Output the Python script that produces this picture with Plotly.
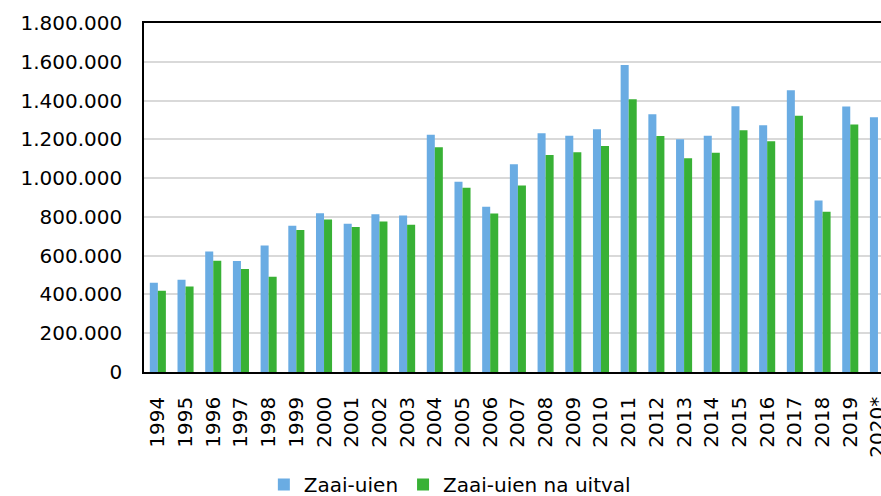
import plotly.graph_objects as go

# Jaartallen (2020 is een voorlopig cijfer)
jaren = ["1994", "1995", "1996", "1997", "1998", "1999", "2000", "2001", "2002",
         "2003", "2004", "2005", "2006", "2007", "2008", "2009", "2010", "2011",
         "2012", "2013", "2014", "2015", "2016", "2017", "2018", "2019", "2020*"]

# Aantal zaai-uien (totaal)
zaai_uien = [460000, 476000, 621000, 572000, 652000, 754000, 819000, 764000, 814000,
             807000, 1224000, 981000, 852000, 1072000, 1231000, 1219000, 1252000, 1583000,
             1329000, 1200000, 1219000, 1371000, 1272000, 1453000, 884000, 1369000, 1314000]

# Aantal zaai-uien na uitval (2020 nog niet bekend)
zaai_uien_na_uitval = [419000, 441000, 574000, 531000, 491000, 733000, 786000, 748000, 776000,
                       760000, 1159000, 950000, 817000, 962000, 1119000, 1134000, 1166000, 1407000,
                       1217000, 1102000, 1131000, 1247000, 1190000, 1322000, 826000, 1276000, None]

BLAUW = "#6aace3"
GROEN = "#38b135"
FONT = "DejaVu Sans"
SIZE = 20

fig = go.Figure()
fig.add_trace(go.Bar(x=jaren, y=zaai_uien, name="Zaai-uien",
                     marker=dict(color=BLAUW, line=dict(width=0))))
fig.add_trace(go.Bar(x=jaren, y=zaai_uien_na_uitval, name="Zaai-uien na uitval",
                     marker=dict(color=GROEN, line=dict(width=0))))

fig.update_layout(
    width=881, height=496,
    margin=dict(l=144, r=0, t=23, b=124, autoexpand=False),
    paper_bgcolor="white", plot_bgcolor="white",
    barmode="group", bargap=0.42, bargroupgap=0,
    separators=",.",
    font=dict(family=FONT, size=SIZE, color="#000000"),
    showlegend=True,
    legend=dict(orientation="h", x=0.415, xanchor="center", y=-0.322, yanchor="middle",
                font=dict(family=FONT, size=SIZE), itemwidth=30, traceorder="normal",
                tracegroupgap=0),
)

fig.update_xaxes(
    type="category", range=[-0.5, 26.11], automargin=False,
    tickangle=-90, ticklabelstandoff=15,
    showline=True, linecolor="#000000", linewidth=1.5, mirror=True,
    showgrid=False, ticks="",
    tickfont=dict(family=FONT, size=SIZE),
)
fig.update_yaxes(
    range=[0, 1800000], dtick=200000, tickformat=",d", automargin=False,
    showline=True, linecolor="#000000", linewidth=1.5, mirror=True,
    showgrid=True, gridcolor="#d9d9d9", gridwidth=1.5,
    zeroline=False, ticks="", ticklabelstandoff=16,
    tickfont=dict(family=FONT, size=SIZE),
)

fig.write_html("out.html")
